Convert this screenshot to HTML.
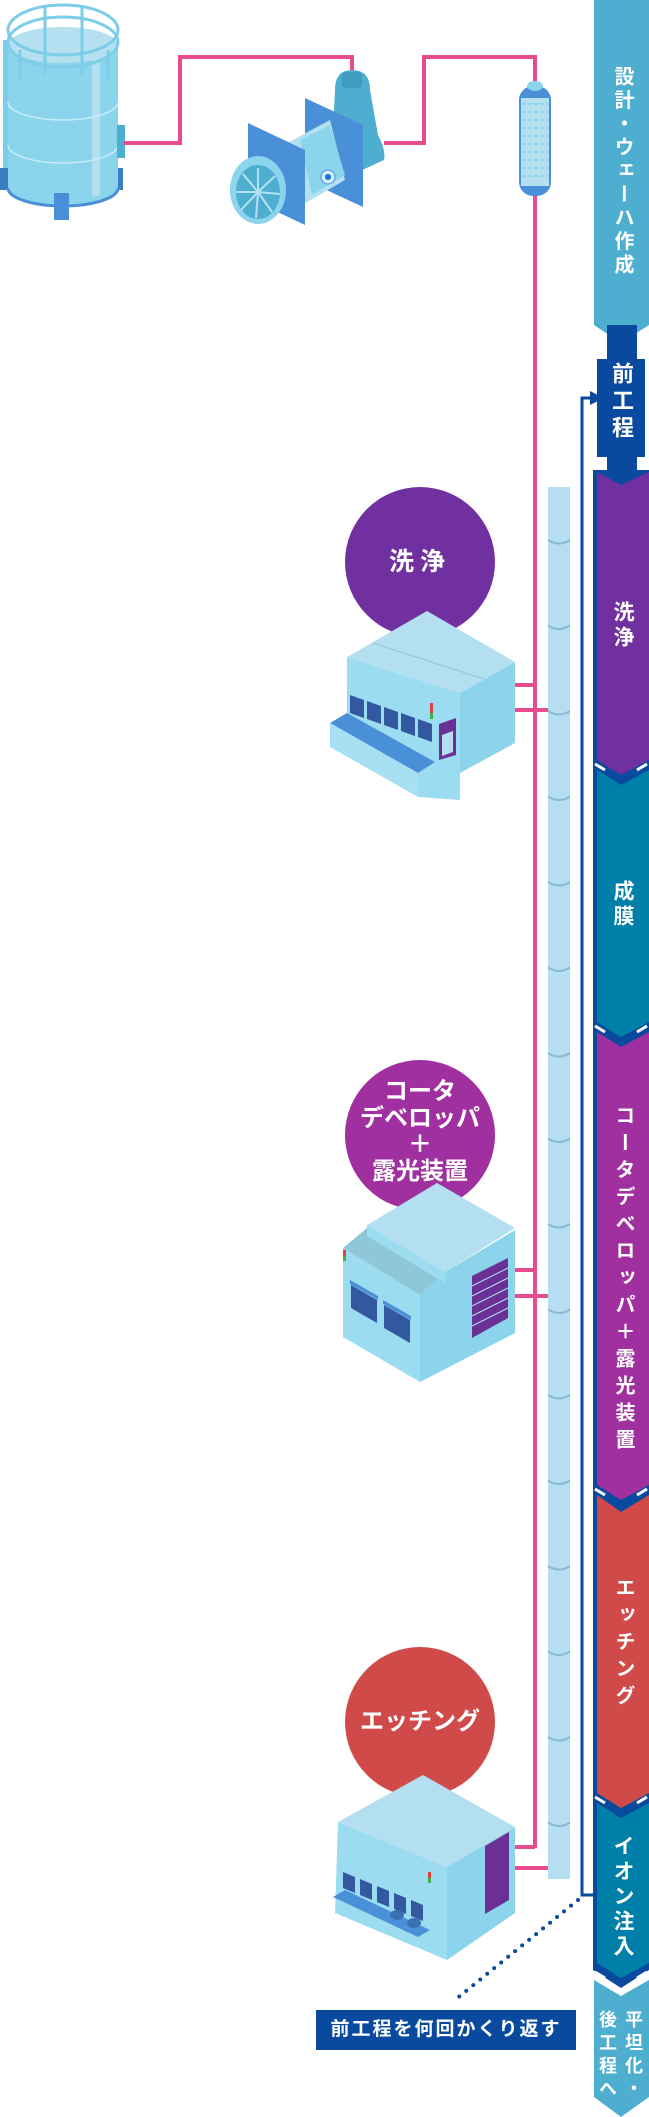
<!DOCTYPE html>
<html><head><meta charset="utf-8"><style>
html,body{margin:0;padding:0;background:#fff;}
#w{position:relative;width:649px;height:2117px;overflow:hidden;font-family:"Liberation Sans","Noto Sans CJK JP",sans-serif;}
svg{position:absolute;left:0;top:0;}
.v{position:absolute;writing-mode:vertical-rl;color:#fff;font-weight:bold;line-height:1;white-space:nowrap;}
.c{position:absolute;color:#fff;font-weight:bold;text-align:center;white-space:nowrap;}
</style></head><body><div id="w">
<svg width="649" height="2117" viewBox="0 0 649 2117">
<g>
<rect x="3" y="40" width="5" height="150" fill="#7ccde8"/>
<rect x="0" y="168" width="10" height="22" fill="#3a7fc0"/>
<rect x="113" y="168" width="10" height="22" fill="#3a7fc0"/>
<path d="M8 45 L118 45 L118 188 A55 18 0 0 1 8 188 Z" fill="#8ad4ec"/>
<path d="M92 45 L100 45 L100 195 L92 197 Z" fill="#b5e0f0"/>
<path d="M8 188 A55 18 0 0 0 118 188" fill="none" stroke="#4a90d8" stroke-width="3"/>
<ellipse cx="63" cy="45" rx="55" ry="18" fill="#b5e0f0"/>
<path d="M8 102 A55 18 0 0 0 118 102 M8 145 A55 18 0 0 0 118 145" fill="none" stroke="#c8ecf8" stroke-width="1.5"/>
<ellipse cx="63" cy="30" rx="55" ry="25" fill="none" stroke="#7ccde8" stroke-width="3"/>
<ellipse cx="63" cy="42" rx="55" ry="25" fill="none" stroke="#7ccde8" stroke-width="3"/>
<path d="M45 5 V75 M82 5 V75 M20 50 V80 M108 50 V80" stroke="#7ccde8" stroke-width="3"/>
<rect x="54" y="193" width="15" height="27" fill="#4a90d8"/>
<rect x="117" y="125" width="8" height="33" fill="#4eaed0"/>
</g>
<path d="M124 143 H180 V57 H352 V75 M384 143 H424 V57 H535 V85 M535 195 V1848 M515 685 H535 M515 710 H548 M515 1270 H535 M515 1296 H548 M515 1847 H535 M515 1868 H548" fill="none" stroke="#e84c8f" stroke-width="4"/>
<g>
<path d="M335 90 Q335 70 352 70 Q370 70 370 90 L378 135 Q386 150 384 160 L330 185 Z" fill="#4eaed0"/>
<rect x="342" y="72" width="20" height="16" rx="4" fill="#3f9cc0"/>
<polygon points="305,98 363,125 363,207 305,180" fill="#4a90d8"/>
<path d="M265 155 L330 120 L345 180 L285 215 Z" fill="#b5e0f0"/>
<path d="M300 140 L330 125 L345 175 L312 195 Z" fill="#8ad4ec"/>
<circle cx="328" cy="177" r="7" fill="#d0eef8" stroke="#4a90d8" stroke-width="1"/>
<circle cx="328" cy="177" r="3" fill="#1a6ee0"/>
<polygon points="248,123 305,150 305,225 248,198" fill="#4a90d8"/>
<ellipse cx="258" cy="190" rx="28" ry="34" fill="#8ad4ec"/>
<ellipse cx="258" cy="192" rx="22" ry="27" fill="#4eaed0"/>
<g stroke="#b5e0f0" stroke-width="2"><path d="M258 192 L258 168 M258 192 L275 176 M258 192 L280 194 M258 192 L272 212 M258 192 L256 218 M258 192 L241 210 M258 192 L236 192 M258 192 L243 174"/></g>
</g>
<g>
<rect x="519" y="86" width="32" height="110" rx="14" fill="#4a90d8"/>
<rect x="521" y="98" width="28" height="88" fill="#b5e0f0"/>
<g stroke="#8ad4ec" stroke-width="2" stroke-dasharray="4 2">
<path d="M522 104H548M522 112H548M522 120H548M522 128H548M522 136H548M522 144H548M522 152H548M522 160H548M522 168H548M522 176H548"/></g>
<ellipse cx="535" cy="86" rx="8" ry="5" fill="#8ad4ec"/>
</g>
<rect x="548" y="487" width="22" height="1392" fill="#b5dff0"/>
<polygon points="594,0 649,0 649,325 621,343 594,325" fill="#4eaed0"/>
<rect x="607" y="325" width="30" height="40" fill="#0a4a9e"/>
<rect x="597" y="359" width="48" height="98" fill="#0a4a9e"/>
<rect x="607" y="455" width="30" height="20" fill="#0a4a9e"/>
<polygon points="593,470 649,470 649,1970 621,1988 593,1970" fill="#0a4a9e"/>
<polygon points="597,472 621,485 649,472 649,760 621,775 597,760" fill="#7030a0"/>
<polygon points="597,770 621,785 649,770 649,1022 621,1037 597,1022" fill="#0080a8"/>
<polygon points="597,1032 621,1047 649,1032 649,1485 621,1500 597,1485" fill="#a030a0"/>
<polygon points="597,1495 621,1512 649,1495 649,1793 621,1808 597,1793" fill="#d04a4a"/>
<polygon points="597,1803 621,1818 649,1803 649,1963 621,1978 597,1963" fill="#0080a8"/>
<polygon points="594,1980 621,1996 649,1980 649,2097 621,2117 594,2097" fill="#4eaed0"/>
<g stroke="#fff" stroke-width="3">
<path d="M595 764 L605 770 M647 764 L637 770"/>
<path d="M595 1026 L605 1032 M647 1026 L637 1032"/>
<path d="M595 1489 L605 1495 M647 1489 L637 1495"/>
<path d="M595 1797 L605 1803 M647 1797 L637 1803"/>
<path d="M595 1972 L605 1978 M647 1972 L637 1978"/>
</g>
<path d="M594 1895 H582 V398 H592" fill="none" stroke="#0a4a9e" stroke-width="3"/>
<polygon points="590,391 604,398 590,405" fill="#0a4a9e"/>
<path d="M578 1900 L455 2000" stroke="#0a4a9e" stroke-width="4" stroke-dasharray="0 9" stroke-linecap="round"/>
<rect x="316" y="2010" width="260" height="40" fill="#0a4a9e"/>
<circle cx="420" cy="562" r="75" fill="#7030a0"/>
<circle cx="420" cy="1135" r="75" fill="#a030a0"/>
<circle cx="420" cy="1722" r="75" fill="#d04a4a"/>
<g>
<polygon points="347,657 460,693 460,800 418,797 418,773 347,733" fill="#9cdcf0"/>
<polygon points="460,693 515,662 515,743 460,773" fill="#8cd4ec"/>
<polygon points="427,611 515,662 460,693 347,657" fill="#b4dff0"/>
<path d="M373 643 L484 679" stroke="#8cc4e0" stroke-width="1"/>
<g fill="#3458a0">
<polygon points="350,695 364,700 364,718 350,713"/>
<polygon points="367,701 381,706 381,724 367,719"/>
<polygon points="384,707 398,712 398,730 384,725"/>
<polygon points="401,713 415,718 415,736 401,731"/>
<polygon points="418,719 432,724 432,742 418,737"/>
</g>
<polygon points="439,724 456,718 456,755 439,760" fill="#6a3096"/>
<polygon points="442,735 453,731 453,752 442,756" fill="#b4dff0"/>
<polygon points="330,723 347,713 435,762 418,773" fill="#4a90d8"/>
<polygon points="330,723 418,773 418,797 330,747" fill="#a6e0f2"/>
<rect x="430" y="703" width="3" height="10" fill="#e04040"/>
<rect x="430" y="713" width="3" height="6" fill="#40b040"/>
</g>
<g>
<polygon points="343,1248 420,1295 420,1382 343,1337" fill="#9cdcf0"/>
<polygon points="445,1272 515,1230 515,1333 420,1382 420,1295" fill="#8cd4ec"/>
<polygon points="343,1248 367,1228 445,1272 420,1295" fill="#8ec8d8"/>
<polygon points="437,1183 515,1228 445,1272 367,1225" fill="#b4dff0"/>
<polygon points="367,1225 445,1272 445,1283 367,1236" fill="#9cdcf0"/>
<g fill="#3458a0">
<polygon points="351,1285 377,1300 377,1323 351,1308"/>
<polygon points="384,1305 410,1320 410,1343 384,1328"/>
</g>
<g fill="#4a90d8">
<polygon points="350,1280 378,1296 378,1300 350,1284"/>
<polygon points="383,1300 411,1316 411,1320 383,1304"/>
</g>
<polygon points="472,1276 508,1258 508,1318 472,1338" fill="#6a3096"/>
<g stroke="#b4dff0" stroke-width="1"><path d="M472 1286 L508 1268 M472 1296 L508 1278 M472 1306 L508 1288 M472 1316 L508 1298 M472 1326 L508 1308"/></g>
<rect x="343" y="1250" width="3" height="6" fill="#e04040"/>
<rect x="343" y="1256" width="3" height="5" fill="#40b040"/>
</g>
<g>
<polygon points="338,1822 447,1867 447,1960 335,1913" fill="#9cdcf0"/>
<polygon points="447,1867 515,1827 515,1913 447,1960" fill="#8cd4ec"/>
<polygon points="423,1775 515,1827 447,1867 338,1822" fill="#b4dff0"/>
<polygon points="485,1846 509,1832 509,1900 485,1914" fill="#6a3096"/>
<g fill="#3458a0">
<polygon points="343,1872 355,1877 355,1893 343,1888"/>
<polygon points="360,1879 372,1884 372,1900 360,1895"/>
<polygon points="377,1886 389,1891 389,1907 377,1902"/>
<polygon points="394,1893 406,1898 406,1914 394,1909"/>
<polygon points="411,1900 423,1905 423,1921 411,1916"/>
</g>
<g fill="#4a90d8">
<polygon points="333,1897 345,1890 362,1898 350,1905"/>
<polygon points="350,1905 362,1898 379,1906 367,1913"/>
<polygon points="367,1913 379,1906 396,1914 384,1921"/>
<polygon points="384,1921 396,1914 413,1922 401,1929"/>
<polygon points="401,1929 413,1922 430,1930 418,1937"/>
</g>
<ellipse cx="397" cy="1915" rx="7" ry="5" fill="#3a70b0"/>
<ellipse cx="414" cy="1923" rx="7" ry="5" fill="#3a70b0"/>
<rect x="428" y="1872" width="3" height="6" fill="#e04040"/>
<rect x="428" y="1878" width="3" height="5" fill="#40b040"/>
</g>
</svg>
<svg width="649" height="2117" viewBox="0 0 649 2117">
<g fill="none" stroke="#8ab8d8" stroke-width="2">
<path d="M548 540 q11 7 22 0 M548 625.5 q11 7 22 0 M548 711 q11 7 22 0 M548 796.5 q11 7 22 0 M548 882 q11 7 22 0 M548 967.5 q11 7 22 0 M548 1053 q11 7 22 0 M548 1138.5 q11 7 22 0 M548 1224 q11 7 22 0 M548 1309.5 q11 7 22 0 M548 1395 q11 7 22 0 M548 1480.5 q11 7 22 0 M548 1566 q11 7 22 0 M548 1651.5 q11 7 22 0 M548 1737 q11 7 22 0 M548 1822.5 q11 7 22 0"/>
</g>
</svg>
<div class="v" style="left:612px;top:66px;font-size:20px;letter-spacing:3.5px;">設計・ウェーハ作成</div>
<div class="v" style="left:610px;top:362px;font-size:22px;letter-spacing:5px;">前工程</div>
<div class="v" style="left:612px;top:601px;font-size:21px;letter-spacing:4px;">洗浄</div>
<div class="v" style="left:612px;top:880px;font-size:21px;letter-spacing:4px;">成膜</div>
<div class="v" style="left:613px;top:1105px;font-size:20px;letter-spacing:7px;">コータデベロッパ＋露光装置</div>
<div class="v" style="left:613px;top:1577px;font-size:20px;letter-spacing:7px;">エッチング</div>
<div class="v" style="left:612px;top:1835px;font-size:21px;letter-spacing:4px;">イオン注入</div>
<div class="v" style="left:594px;top:2010px;font-size:18px;letter-spacing:5px;line-height:26px;">平坦化・<br>後工程へ</div>
<div class="c" style="left:345px;width:150px;top:545px;font-size:25px;letter-spacing:6px;line-height:34px;">洗浄</div>
<div class="c" style="left:345px;width:150px;top:1079px;font-size:24px;line-height:26.5px;">コータ<br>デベロッパ<br>＋<br>露光装置</div>
<div class="c" style="left:345px;width:150px;top:1706px;font-size:24px;line-height:32px;">エッチング</div>
<div class="c" style="left:316px;width:260px;top:2017px;font-size:19px;letter-spacing:2px;line-height:26px;">前工程を何回かくり返す</div>
</div></body></html>
